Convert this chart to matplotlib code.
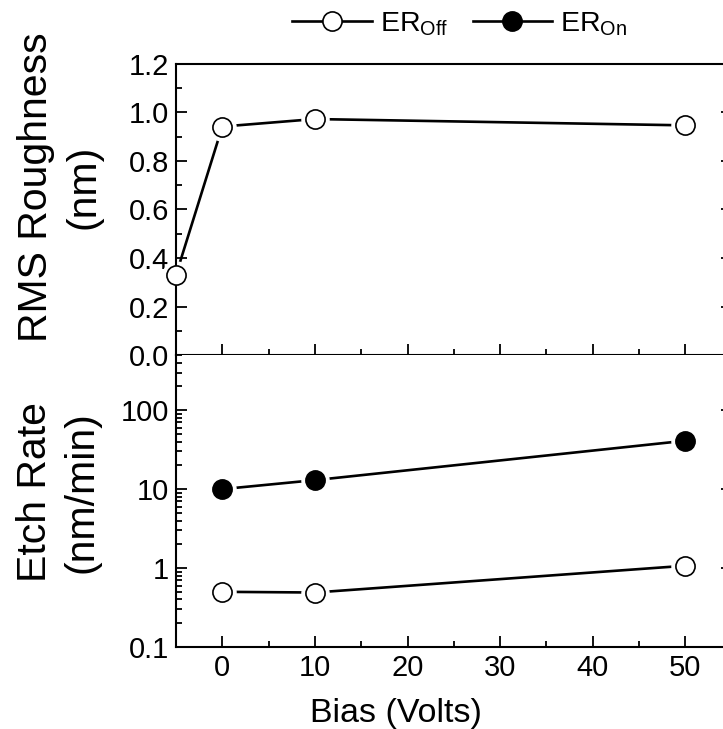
import matplotlib
matplotlib.use("Agg")
import matplotlib.pyplot as plt
from matplotlib.ticker import MultipleLocator, LogLocator, FixedLocator, FixedFormatter
from matplotlib.lines import Line2D

plt.rcParams['font.family'] = ['Liberation Sans', 'DejaVu Sans']
plt.rcParams['mathtext.fontset'] = 'custom'
plt.rcParams['mathtext.rm'] = 'Liberation Sans'
plt.rcParams['mathtext.it'] = 'Liberation Sans'

# data
bias_rms = [-5, 0, 10, 50]
rms_nm = [0.33, 0.942, 0.973, 0.947]

bias_er = [0, 10, 50]
er_on = [10.0, 13.0, 41.0]
er_off = [0.50, 0.49, 1.07]

log_ticks = [0.1, 1, 10, 100]
log_labels = ['0.1', '1', '10', '100']

W, H = 723, 729
fig = plt.figure(figsize=(W / 100, H / 100), dpi=100)

left = 176 / W
right = 731.6 / W
ax1 = fig.add_axes([left, 1 - 355 / H, right - left, 291 / H])
ax2 = fig.add_axes([left, 1 - 647 / H, right - left, 292 / H], sharex=ax1)

ms = 13.8
halo = 19.5
lw = 1.9


def draw(ax, x, y, filled):
    """line first, then a white halo so the line stops short of the marker"""
    ax.plot(x, y, color='black', lw=lw, zorder=1, clip_on=False)
    ax.plot(x, y, ls='none', marker='o', ms=halo, mfc='white', mec='white',
            zorder=2, clip_on=False)
    ax.plot(x, y, ls='none', marker='o', ms=ms, mew=1.2, mec='black',
            mfc='black' if filled else 'white', zorder=3, clip_on=False)


draw(ax1, bias_rms, rms_nm, False)
draw(ax2, bias_er, er_on, True)
draw(ax2, bias_er, er_off, False)

ax1.set_xlim(-5, 55)
ax1.set_ylim(0, 1.2)
ax1.yaxis.set_major_locator(MultipleLocator(0.2))
ax1.yaxis.set_minor_locator(MultipleLocator(0.1))
ax1.yaxis.set_major_formatter(matplotlib.ticker.FormatStrFormatter('%.1f'))
ax1.xaxis.set_major_locator(MultipleLocator(10))
ax1.xaxis.set_minor_locator(MultipleLocator(5))

ax2.set_yscale('log')
ax2.set_ylim(0.1, 500)
ax2.yaxis.set_major_locator(FixedLocator(log_ticks))
ax2.yaxis.set_major_formatter(FixedFormatter(log_labels))
ax2.yaxis.set_minor_locator(LogLocator(base=10, subs=range(2, 10)))

for ax in (ax1, ax2):
    for s in ax.spines.values():
        s.set_linewidth(1.5)
    ax.tick_params(which='both', direction='in', labelsize=21, width=1.3,
                   left=True, right=True, pad=5)
    ax.tick_params(which='major', length=8)
    ax.tick_params(which='minor', length=4.5)

ax1.tick_params(axis='x', which='both', top=False, bottom=True, labelbottom=False)
ax2.tick_params(axis='x', which='both', top=False, bottom=True, pad=5)
ax2.spines['top'].set_visible(False)

fig.text(60 / W, 1 - 187 / H, 'RMS Roughness\n(nm)', rotation=90, fontsize=29.5,
         ha='center', va='center', multialignment='center', linespacing=1.3)
fig.text(58 / W, 1 - 492 / H, 'Etch Rate\n(nm/min)', rotation=90, fontsize=29.5,
         ha='center', va='center', multialignment='center', linespacing=1.3)
fig.text(396 / W, 1 - 722 / H, 'Bias (Volts)', fontsize=24.5, ha='center', va='baseline')

handles = [
    Line2D([], [], color='black', lw=lw, marker='o', ms=ms, mfc='white', mec='black', mew=1.2),
    Line2D([], [], color='black', lw=lw, marker='o', ms=ms, mfc='black', mec='black', mew=1.2),
]
fig.legend(handles, [r'ER$_{\mathrm{Off}}$', r'ER$_{\mathrm{On}}$'], ncol=2,
           loc='center', bbox_to_anchor=(460 / W, 1 - 24 / H), frameon=False,
           fontsize=20.5, handlelength=2.78, handletextpad=0.3, columnspacing=0.85,
           borderpad=0, borderaxespad=0)

fig.savefig('out.png', dpi=100)
